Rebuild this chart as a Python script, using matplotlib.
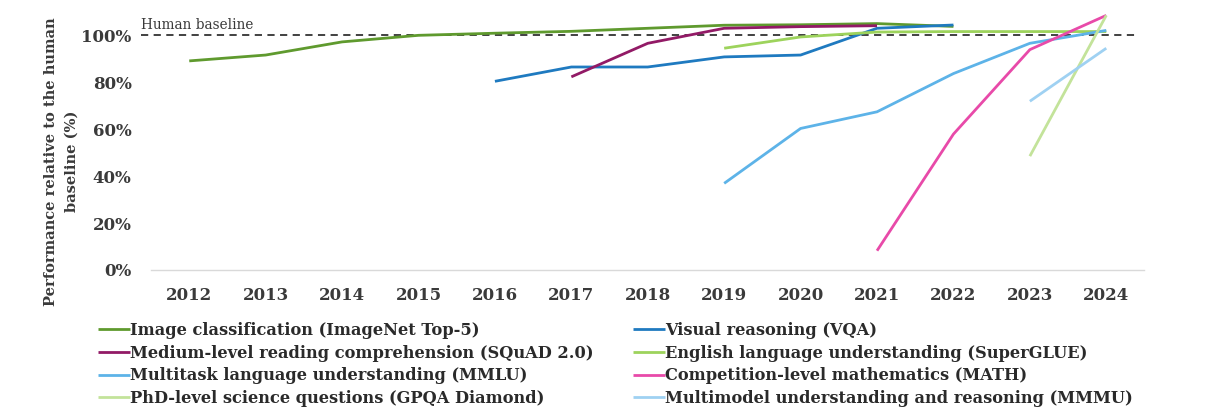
import matplotlib
matplotlib.use("Agg")
import matplotlib.pyplot as plt
import numpy as np

years = [str(y) for y in range(2012, 2025)]

imagenet_years = list(range(2012, 2023))
imagenet_vals = [89.1, 91.6, 97.2, 100.0, 100.9, 101.7, 103.0, 104.3, 104.5, 105.0, 103.8]

vqa_years = list(range(2016, 2023))
vqa_vals = [80.4, 86.5, 86.5, 90.8, 91.6, 103.0, 104.4]

squad_years = list(range(2017, 2022))
squad_vals = [82.3, 96.6, 103.0, 103.7, 104.1]

superglue_years = list(range(2019, 2025))
superglue_vals = [94.5, 99.3, 101.4, 101.6, 101.6, 101.6]

mmlu_years = list(range(2019, 2025))
mmlu_vals = [36.9, 60.3, 67.4, 83.7, 96.6, 102.1]

math_years = list(range(2021, 2025))
math_vals = [8.2, 57.9, 93.9, 108.5]

gpqa_years = [2023, 2024]
gpqa_vals = [48.5, 108.5]

mmmu_years = [2023, 2024]
mmmu_vals = [71.9, 94.5]

series = [
    ("Image classification (ImageNet Top-5)", imagenet_years, imagenet_vals, "#5f9a2e"),
    ("Medium-level reading comprehension (SQuAD 2.0)", squad_years, squad_vals, "#921a66"),
    ("Multitask language understanding (MMLU)", mmlu_years, mmlu_vals, "#5db3e8"),
    ("PhD-level science questions (GPQA Diamond)", gpqa_years, gpqa_vals, "#c3e39a"),
    ("Visual reasoning (VQA)", vqa_years, vqa_vals, "#1f7ac0"),
    ("English language understanding (SuperGLUE)", superglue_years, superglue_vals, "#9dd35c"),
    ("Competition-level mathematics (MATH)", math_years, math_vals, "#e84aa9"),
    ("Multimodel understanding and reasoning (MMMU)", mmmu_years, mmmu_vals, "#9fd1f2"),
]

draw_order = [0, 4, 1, 5, 2, 6, 3, 7]

serif = "DejaVu Serif"

fig = plt.figure(figsize=(12.28, 4.09), dpi=100)
ax = fig.add_axes([0.123, 0.340, 0.809, 0.631])

handles = {}
for i in draw_order:
    name, yrs, vals, col = series[i]
    xs = [y - 2012 for y in yrs]
    (ln,) = ax.plot(xs, vals, color=col, lw=2.0, solid_capstyle="butt", label=name)
    handles[i] = ln

ax.set_xlim(-0.5, len(years) - 0.5)
ax.set_ylim(0, 110)
ax.set_xticks(range(len(years)))
ax.set_xticklabels(years)
ax.set_yticks([0, 20, 40, 60, 80, 100])
ax.set_yticklabels([f"{v}%" for v in [0, 20, 40, 60, 80, 100]])

for s in ["top", "right", "left"]:
    ax.spines[s].set_visible(False)
ax.spines["bottom"].set_color("#d9d9d9")
ax.spines["bottom"].set_linewidth(1.0)
ax.tick_params(axis="both", length=0, colors="#3a3a3a")
ax.tick_params(axis="x", pad=12)
ax.tick_params(axis="y", pad=14)
for lab in ax.get_xticklabels() + ax.get_yticklabels():
    lab.set_fontfamily(serif)
    lab.set_fontweight("bold")
    lab.set_fontsize(12)
    lab.set_color("#3a3a3a")

ax.plot([-0.63, 12.4], [100, 100], ls=(0, (4, 3)), color="#333333", lw=1.3,
        clip_on=False, zorder=1)
ax.text(-0.63, 101.5, "Human baseline", fontfamily=serif, fontsize=9.8,
        color="#3a3a3a", ha="left", va="bottom")

ax.set_ylabel("Performance relative to the human\nbaseline (%)", fontfamily=serif,
              fontweight="bold", fontsize=10.5, color="#3a3a3a",
              linespacing=1.55)
ax.yaxis.set_label_coords(-0.073, 0.42)

leg_handles = [handles[i] for i in range(8)]
leg = fig.legend(leg_handles, [s[0] for s in series], ncol=2,
                 loc="upper left", bbox_to_anchor=(0.0798, 0.213),
                 frameon=False, handlelength=2.0, handletextpad=0.0,
                 columnspacing=2.4, labelspacing=0.35, borderpad=0,
                 borderaxespad=0,
                 prop={"family": serif, "weight": "bold", "size": 11.7})
for t in leg.get_texts():
    t.set_color("#2a2a2a")

fig.savefig("out.png", dpi=100)
